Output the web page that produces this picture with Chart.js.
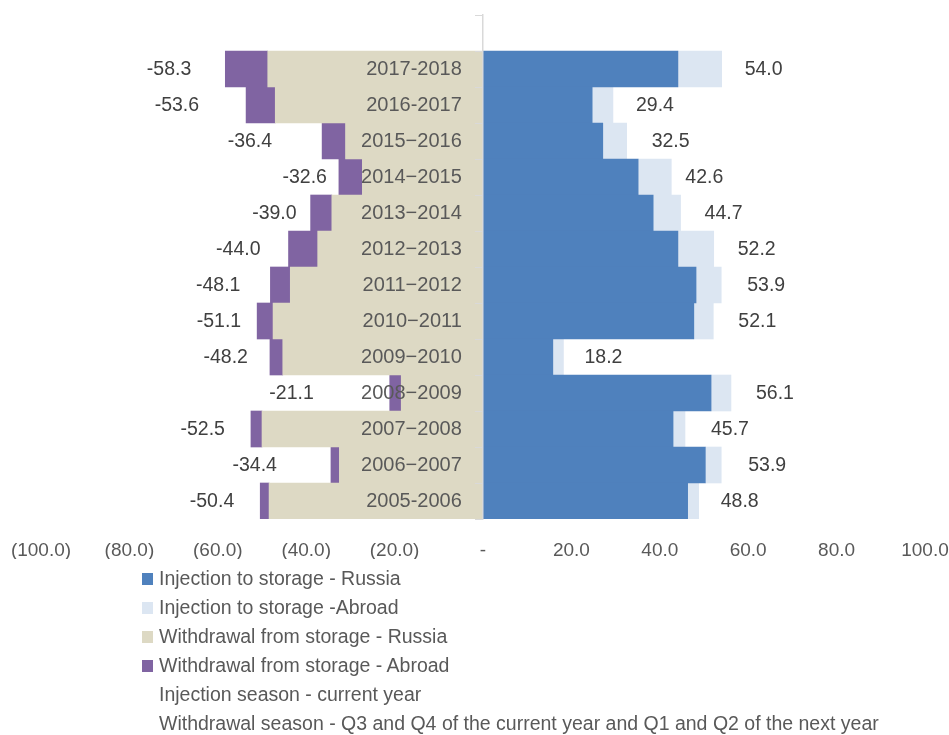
<!DOCTYPE html>
<html>
<head>
<meta charset="utf-8">
<script src="https://cdn.jsdelivr.net/npm/chart.js@4.4.1/dist/chart.umd.min.js"></script>
<style>
  html, body { margin: 0; padding: 0; background: #ffffff; }
  #wrap { position: relative; width: 949px; height: 735px; overflow: hidden; }
  #c { position: absolute; left: 0; top: 0; }
  #legend { position: absolute; left: 142px; top: 564px; margin: 0; padding: 0; list-style: none;
            font-family: 'Liberation Sans', Arial, sans-serif;
            font-size: 19.5px; color: #595959; }
  #legend li { height: 29px; line-height: 29px; display: flex; align-items: center; white-space: nowrap; }
  #legend .sw { display: inline-block; width: 11px; height: 12px; margin-right: 6px; flex: none; }
</style>
</head>
<body>
<div id="wrap">
  <canvas id="c" width="949" height="735"></canvas>
  <ul id="legend"></ul>
</div>
<script>
// ---- data ----
const categories = ['2017-2018', '2016-2017', '2015\u22122016', '2014\u22122015', '2013\u22122014', '2012\u22122013',
                    '2011\u22122012', '2010\u22122011', '2009\u22122010', '2008\u22122009', '2007\u22122008', '2006\u22122007', '2005-2006'];
const injectionRussia     = [44.1, 24.7, 27.1, 35.1, 38.5, 44.1, 48.2, 47.7, 15.8, 51.6, 43.0, 50.3, 46.3];
const injectionAbroad     = [ 9.9,  4.7,  5.4,  7.5,  6.2,  8.1,  5.7,  4.4,  2.4,  4.5,  2.7,  3.6,  2.5];
const withdrawalRussia    = [-48.7, -47.0, -31.1, -27.3, -34.2, -37.4, -43.6, -47.5, -45.3, -18.5, -50.0, -32.5, -48.4];
const withdrawalAbroad    = [-9.6, -6.6, -5.3, -5.3, -4.8, -6.6, -4.5, -3.6, -2.9, -2.6, -2.5, -1.9, -2.0];
const injectionTotals     = [54.0, 29.4, 32.5, 42.6, 44.7, 52.2, 53.9, 52.1, 18.2, 56.1, 45.7, 53.9, 48.8];
const withdrawalTotals    = [-58.3, -53.6, -36.4, -32.6, -39.0, -44.0, -48.1, -51.1, -48.2, -21.1, -52.5, -34.4, -50.4];
const xTickValues         = [-100, -80, -60, -40, -20, 0, 20, 40, 60, 80, 100];
const seriesNames = ['Injection to storage - Russia', 'Injection to storage -Abroad',
                     'Withdrawal from storage - Russia', 'Withdrawal from storage - Abroad',
                     'Injection season - current year',
                     'Withdrawal season - Q3 and Q4 of the current year and Q1 and Q2 of the next year'];

// ---- styles ----
const FONT_FAMILY = "'Liberation Sans', Arial, sans-serif";
const colors = ['#4F81BD', '#DCE6F2', '#DDD9C4', '#8064A2', 'rgba(0,0,0,0)', 'rgba(0,0,0,0)'];

// one empty category row on top (blank band above the first bar)
const labels = [''].concat(categories);
const pad = (arr) => [null].concat(arr);

const seriesData = [injectionRussia, injectionAbroad, withdrawalRussia, withdrawalAbroad, [], []];
const datasets = seriesNames.map((name, i) => ({
  label: name,
  data: seriesData[i].length ? pad(seriesData[i]) : [],
  backgroundColor: colors[i],
  borderWidth: 0,
  barPercentage: 1.0,
  categoryPercentage: 1.0,
  yAxisID: 'y'
}));

const fmtTick = (v) => {
  if (v === 0) return '-';
  if (v < 0) return '(' + Math.abs(v).toFixed(1) + ')';
  return v.toFixed(1);
};

const noPad = (s) => { s.paddingTop = 0; s.paddingBottom = 0; s.paddingLeft = 0; s.paddingRight = 0; };

// total labels, placed a small gap (px) beyond the end of each side's stack
const totalsLabelPlugin = {
  id: 'totalsLabels',
  afterDatasetsDraw(chart, args, opts) {
    const ctx = chart.ctx;
    const xs = chart.scales.x, ys = chart.scales.y;
    ctx.save();
    ctx.font = '19.5px ' + FONT_FAMILY;
    ctx.fillStyle = '#404040';
    ctx.textBaseline = 'middle';
    categories.forEach((c, i) => {
      const y = ys.getPixelForValue(i + 1) + 1;
      ctx.textAlign = 'left';
      ctx.fillText(injectionTotals[i].toFixed(1), xs.getPixelForValue(injectionTotals[i]) + opts.rightGap[i], y);
      ctx.textAlign = 'right';
      ctx.fillText(withdrawalTotals[i].toFixed(1), xs.getPixelForValue(withdrawalTotals[i]) - opts.leftGap[i], y);
    });
    ctx.restore();
  }
};

const htmlLegendPlugin = {
  id: 'htmlLegend',
  afterUpdate(chart) {
    const ul = document.getElementById('legend');
    ul.innerHTML = '';
    chart.data.datasets.forEach((ds) => {
      const li = document.createElement('li');
      const sw = document.createElement('span');
      sw.className = 'sw';
      sw.style.background = ds.backgroundColor;
      const tx = document.createElement('span');
      tx.textContent = ds.label;
      li.appendChild(sw);
      li.appendChild(tx);
      ul.appendChild(li);
    });
  }
};

new Chart(document.getElementById('c'), {
  type: 'bar',
  data: { labels, datasets },
  plugins: [totalsLabelPlugin, htmlLegendPlugin],
  options: {
    indexAxis: 'y',
    responsive: false,
    animation: false,
    layout: { padding: { left: 41, right: 24, top: 15, bottom: 176 } },
    plugins: {
      legend: { display: false }, tooltip: { enabled: false }, title: { display: false },
      totalsLabels: {
        rightGap: [23, 23, 25, 14, 24, 24, 26, 25, 21, 25, 26, 27, 22],
        leftGap:  [34, 47, 50, 12, 14, 28, 30, 16, 22, 76, 26, 54, 26]
      }
    },
    scales: {
      x: {
        stacked: true,
        min: -100, max: 100,
        afterBuildTicks: (s) => { s.ticks = xTickValues.map(v => ({ value: v })); },
        afterFit: (s) => { s.height = 40; s.paddingLeft = 0; s.paddingRight = 0; },
        grid: { display: false, drawTicks: false },
        border: { display: false },
        ticks: { color: '#595959', font: { family: FONT_FAMILY, size: 19 }, padding: 20,
                 maxRotation: 0, autoSkip: false, callback: (v) => fmtTick(v) }
      },
      // axis line at zero with the short tick marks between rows
      y: {
        stacked: true,
        position: { x: 0 },
        afterFit: noPad,
        grid: { drawOnChartArea: false, drawTicks: true, tickLength: 7, color: '#D9D9D9', lineWidth: 1, offset: true, z: 1 },
        border: { display: true, color: '#D9D9D9', width: 1.5, z: 1 },
        ticks: { display: false, autoSkip: false }
      },
      // category names, drawn just left of the zero line
      yNames: {
        type: 'category',
        axis: 'y',
        position: { x: -4.8 },
        offset: true,
        afterFit: noPad,
        grid: { display: false, drawTicks: false },
        border: { display: false },
        ticks: { color: '#595959', font: { family: FONT_FAMILY, size: 20 }, padding: 0, autoSkip: false, z: 1 }
      }
    }
  }
});
</script>
</body>
</html>
